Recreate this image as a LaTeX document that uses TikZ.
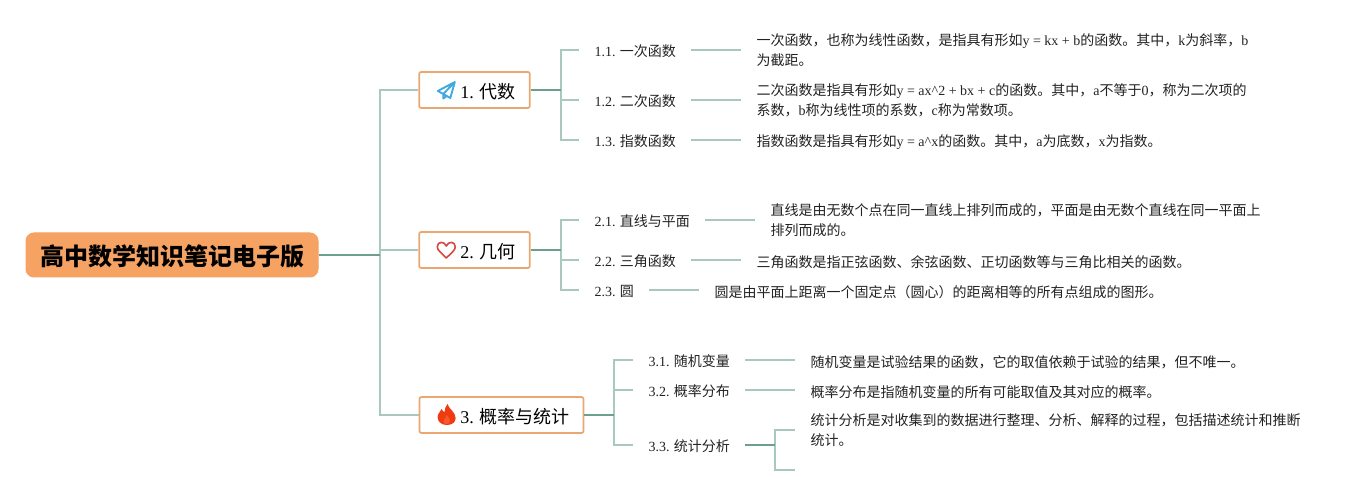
\documentclass[tikz,border=0pt]{standalone}
\usepackage{fontspec}
\setmainfont{Noto Sans CJK SC}
\newfontfamily\latinfont{Liberation Serif}
\newcommand{\la}[1]{{\latinfont #1}}
\usetikzlibrary{positioning}
\definecolor{linelight}{HTML}{A9C9BF}
\definecolor{linedark}{HTML}{6E9E8F}
\definecolor{rootfill}{HTML}{F5A263}
\definecolor{catedge}{HTML}{E9A772}
\definecolor{planeblue}{HTML}{3FA9E0}
\definecolor{heartred}{HTML}{D8473D}
\definecolor{firered}{HTML}{F03A12}
\definecolor{fireglow}{HTML}{F8582C}
\definecolor{txt}{HTML}{222222}
\tikzset{
    rootbox/.style={draw=rootfill, fill=rootfill, rounded corners=6pt, line width=0.75pt, minimum width=219pt, minimum height=33pt, inner sep=0pt, font=\fontsize{18}{18}\selectfont\bfseries, text=black, execute at begin node=\rule{0pt}{17.5pt}},
    catbox/.style={draw=catedge, fill=white, rounded corners=1.5pt, line width=1.3pt, minimum height=27pt, inner sep=0pt, font=\fontsize{13.5}{13.5}\selectfont, text=black, execute at begin node=\rule{0pt}{14.5pt}},
    topic/.style={inner xsep=11.5pt, inner ysep=0pt, font=\fontsize{10.5}{10.5}\selectfont, text=txt, anchor=west, execute at begin node=\rule{0pt}{11pt}},
    detail/.style={inner xsep=11.5pt, inner ysep=0pt, font=\fontsize{10.5}{15}\selectfont, text=txt, anchor=west, align=left, execute at begin node=\rule{0pt}{11.7pt}},
    twolines/.style={detail, execute at begin node=\rule{0pt}{14pt}},
    thin link/.style={draw=linelight, line width=1.1pt},
    thick link/.style={draw=linedark, line width=1.1pt},
    planeicon/.pic={
        \draw[draw=planeblue, line width=1.4pt, line join=round] (8.5,-8) -- (-8.5,1) -- (-3,4) -- (8.5,-8) -- (4,8) -- (-3,4) -- (-3,8.5) -- (0.5,6);
    },
    hearticon/.pic={
        \draw[draw=heartred, line width=1.2pt, line join=round] (0,8) .. controls (-5,3) and (-9,0) .. (-9,-3) .. controls (-9,-9) and (-2,-9) .. (0,-4) .. controls (2,-9) and (9,-9) .. (9,-3) .. controls (9,0) and (5,3) .. (0,8) -- cycle;
    },
    fireicon/.pic={
        \fill[firered] (0,10) .. controls (-6,10) and (-9,6) .. (-9,2) .. controls (-9,-2) and (-6,-3) .. (-5,-6) .. controls (-4,-4) and (-3,-3) .. (-2,-3) .. controls (-2,-6) and (-1,-9) .. (1,-11) .. controls (2,-6) and (9,-3) .. (9,3) .. controls (9,7) and (6,10) .. (0,10) -- cycle;
        \fill[fireglow] (0,9) .. controls (-3,9) and (-4,7) .. (-3,5) .. controls (-2,3) and (0,3) .. (0,0) .. controls (2,2) and (4,5) .. (3,7) .. controls (3,8) and (2,9) .. (0,9) -- cycle;
    }
}
\begin{document}
\begin{tikzpicture}[x=0.75pt, y=-0.75pt]
    \useasboundingbox (0,0) rectangle (1370,495);

    % Root and categories
    \node [rootbox]                          (root) at (172,255)  {高中数学知识笔记电子版};
    \node [catbox, minimum width=83pt]       (cat1) at (474.5,90)  {\hspace*{20pt}\la{1.} 代数};
    \node [catbox, minimum width=83pt]       (cat2) at (474.5,250) {\hspace*{20pt}\la{2.} 几何};
    \node [catbox, minimum width=123pt]      (cat3) at (501.5,415) {\hspace*{20pt}\la{3.} 概率与统计};
    \pic [xshift=21pt] at (cat1.west) {planeicon};
    \pic [xshift=21pt] at (cat2.west) {hearticon};
    \pic [xshift=21pt] at (cat3.west) {fireicon};

    % Topics
    \node [topic] (t11) at (579,50)  {\la{1.1.} 一次函数};
    \node [topic] (t12) at (579,100) {\la{1.2.} 二次函数};
    \node [topic] (t13) at (579,140) {\la{1.3.} 指数函数};
    \node [topic] (t21) at (579,220) {\la{2.1.} 直线与平面};
    \node [topic] (t22) at (579,260) {\la{2.2.} 三角函数};
    \node [topic] (t23) at (579,290) {\la{2.3.} 圆};
    \node [topic] (t31) at (633,360) {\la{3.1.} 随机变量};
    \node [topic] (t32) at (633,390) {\la{3.2.} 概率分布};
    \node [topic] (t33) at (633,445) {\la{3.3.} 统计分析};

    % Details
    \node [twolines] (d11) at (741,50)  {一次函数，也称为线性函数，是指具有形如\la{y = kx + b}的函数。其中，\la{k}为斜率，\la{b}\\为截距。};
    \node [twolines] (d12) at (741,100) {二次函数是指具有形如\la{y = ax\^{}2 + bx + c}的函数。其中，\la{a}不等于\la{0}，称为二次项的\\系数，\la{b}称为线性项的系数，\la{c}称为常数项。};
    \node [detail]   (d13) at (741,140) {指数函数是指具有形如\la{y = a\^{}x}的函数。其中，\la{a}为底数，\la{x}为指数。};
    \node [twolines] (d21) at (755,220) {直线是由无数个点在同一直线上排列而成的，平面是由无数个直线在同一平面上\\排列而成的。};
    \node [detail]   (d22) at (741,260) {三角函数是指正弦函数、余弦函数、正切函数等与三角比相关的函数。};
    \node [detail]   (d23) at (699,290) {圆是由平面上距离一个固定点（圆心）的距离相等的所有点组成的图形。};
    \node [detail]   (d31) at (795,360) {随机变量是试验结果的函数，它的取值依赖于试验的结果，但不唯一。};
    \node [detail]   (d32) at (795,390) {概率分布是指随机变量的所有可能取值及其对应的概率。};
    \node [twolines] (d33) at (795,430) {统计分析是对收集到的数据进行整理、分析、解释的过程，包括描述统计和推断\\统计。};
    \coordinate (d34) at (795,470);

    % Links
    \foreach \c in {cat1, cat2, cat3}
        \path [thin link] (380,255) |- (\c.west);
    \foreach \t in {t11, t12, t13}
        \path [thin link] (561,90) |- (\t.west);
    \foreach \t in {t21, t22, t23}
        \path [thin link] (561,250) |- (\t.west);
    \foreach \t in {t31, t32, t33}
        \path [thin link] (614,415) |- (\t.west);
    \foreach \d in {d33, d34}
        \path [thin link] (775,445) |- (\d.west);
    \foreach \t/\d in {t11/d11, t12/d12, t13/d13, t21/d21, t22/d22, t23/d23, t31/d31, t32/d32}
        \path [thin link] (\t.east) -- (\d.west);
    \path [thick link] (root.east) -- (380,255);
    \path [thick link] (cat1.east) -- (561,90);
    \path [thick link] (cat2.east) -- (561,250);
    \path [thick link] (cat3.east) -- (614,415);
    \path [thick link] (t33.east) -- (775,445);
\end{tikzpicture}
\end{document}
